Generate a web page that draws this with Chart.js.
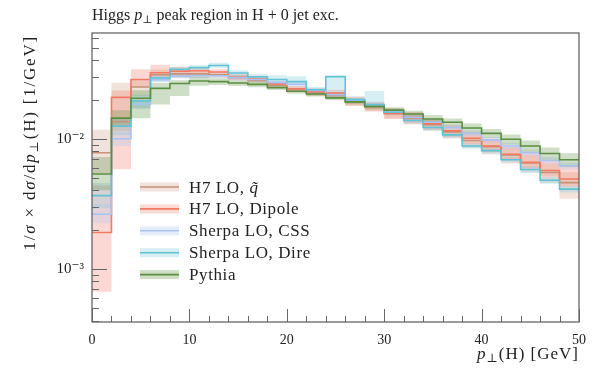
<!DOCTYPE html>
<html>
<head>
<meta charset="utf-8">
<script src="https://cdn.jsdelivr.net/npm/chart.js@4.4.0/dist/chart.umd.min.js"></script>
<style>
    html, body { margin: 0; padding: 0; background: #fff; }
</style>
</head>
<body>
<canvas id="ptChart" width="602" height="374"></canvas>
<script>
// Higgs pT, 2 GeV bins; last edge closes the histogram
const binEdges = [0, 2, 4, 6, 8, 10, 12, 14, 16, 18, 20, 22, 24, 26, 28, 30, 32, 34, 36, 38, 40, 42, 44, 46, 48, 50];

// H7 LO, q~
const h7qVals = [0.0078, 0.0135, 0.0250, 0.0310, 0.0315, 0.0315, 0.0310, 0.0295, 0.0280, 0.0258, 0.0240, 0.0225, 0.0215, 0.0192, 0.0175, 0.0158, 0.0143, 0.0128, 0.0113, 0.0097, 0.0087, 0.0075, 0.0065, 0.0055, 0.0046];
const h7qUp   = [0.50, 1.00, 0.15, 0.10, 0.07, 0.06, 0.05, 0.05, 0.05, 0.05, 0.05, 0.06, 0.06, 0.07, 0.08, 0.09, 0.10, 0.10, 0.11, 0.12, 0.13, 0.14, 0.15, 0.17, 0.20];
const h7qDn   = [0.30, 0.15, 0.15, 0.10, 0.07, 0.06, 0.05, 0.05, 0.05, 0.05, 0.05, 0.06, 0.06, 0.07, 0.08, 0.09, 0.10, 0.10, 0.11, 0.12, 0.13, 0.14, 0.15, 0.17, 0.25];

// H7 LO, Dipole
const h7dVals = [0.0019, 0.0208, 0.0285, 0.0322, 0.0330, 0.0333, 0.0326, 0.0298, 0.0288, 0.0264, 0.0242, 0.0230, 0.0225, 0.0196, 0.0178, 0.0156, 0.0146, 0.0130, 0.0115, 0.0101, 0.0088, 0.0076, 0.0066, 0.0057, 0.0049];
const h7dUp   = [1.30, 0.13, 0.20, 0.15, 0.08, 0.06, 0.05, 0.05, 0.05, 0.05, 0.05, 0.06, 0.06, 0.08, 0.08, 0.09, 0.10, 0.10, 0.10, 0.12, 0.14, 0.15, 0.18, 0.20, 0.25];
const h7dDn   = [0.65, 0.72, 0.12, 0.08, 0.08, 0.06, 0.05, 0.05, 0.05, 0.05, 0.05, 0.06, 0.06, 0.08, 0.08, 0.09, 0.10, 0.10, 0.10, 0.10, 0.10, 0.10, 0.10, 0.10, 0.12];

// Sherpa LO, CSS
const cssVals = [0.00263, 0.0100, 0.0185, 0.0285, 0.0303, 0.0305, 0.0305, 0.0295, 0.0285, 0.0270, 0.0262, 0.0235, 0.0218, 0.0198, 0.0183, 0.0162, 0.0146, 0.0134, 0.0122, 0.0110, 0.0098, 0.0088, 0.0078, 0.0068, 0.0062];
const cssUp   = [0.20, 0.12, 0.08, 0.05, 0.04, 0.04, 0.04, 0.04, 0.04, 0.04, 0.04, 0.04, 0.04, 0.04, 0.04, 0.04, 0.05, 0.05, 0.05, 0.05, 0.05, 0.06, 0.06, 0.06, 0.06];
const cssDn   = [0.15, 0.12, 0.08, 0.05, 0.04, 0.04, 0.04, 0.04, 0.04, 0.04, 0.04, 0.04, 0.04, 0.04, 0.04, 0.04, 0.05, 0.05, 0.05, 0.05, 0.05, 0.06, 0.06, 0.06, 0.06];

// Sherpa LO, Dire
const direVals = [0.00365, 0.0125, 0.0195, 0.0293, 0.0342, 0.0352, 0.0366, 0.0320, 0.0300, 0.0285, 0.0275, 0.0238, 0.0300, 0.0200, 0.0182, 0.0160, 0.0138, 0.0122, 0.0107, 0.0088, 0.0081, 0.0069, 0.0058, 0.0048, 0.0041];
const direUp   = [0.25, 0.15, 0.12, 0.06, 0.05, 0.05, 0.05, 0.05, 0.05, 0.08, 0.10, 0.05, 0.03, 0.05, 0.28, 0.05, 0.05, 0.05, 0.05, 0.05, 0.05, 0.05, 0.06, 0.06, 0.06];
const direDn   = [0.20, 0.15, 0.12, 0.06, 0.05, 0.05, 0.05, 0.05, 0.05, 0.04, 0.04, 0.05, 0.28, 0.05, 0.03, 0.05, 0.05, 0.05, 0.05, 0.05, 0.05, 0.05, 0.06, 0.06, 0.06];

// Pythia
const pyVals = [0.00535, 0.0144, 0.0205, 0.0244, 0.0266, 0.0278, 0.0275, 0.0268, 0.0262, 0.0247, 0.0232, 0.0221, 0.0206, 0.0192, 0.0177, 0.0166, 0.0155, 0.0142, 0.0134, 0.0121, 0.0110, 0.0099, 0.0088, 0.0077, 0.0069];
const pyUp   = [0.35, 0.15, 0.15, 0.10, 0.06, 0.08, 0.06, 0.05, 0.05, 0.04, 0.04, 0.04, 0.04, 0.04, 0.05, 0.05, 0.06, 0.07, 0.07, 0.08, 0.08, 0.09, 0.10, 0.11, 0.12];
const pyDn   = [0.25, 0.12, 0.30, 0.25, 0.20, 0.08, 0.06, 0.05, 0.05, 0.04, 0.04, 0.04, 0.04, 0.04, 0.05, 0.05, 0.06, 0.07, 0.07, 0.08, 0.08, 0.09, 0.10, 0.11, 0.12];

// axis ticks
const xTickStep = 2;
const yTickValues = [4e-4, 5e-4, 6e-4, 7e-4, 8e-4, 9e-4, 1e-3, 2e-3, 3e-3, 4e-3, 5e-3, 6e-3, 7e-3, 8e-3, 9e-3, 1e-2, 2e-2, 3e-2, 4e-2, 5e-2, 6e-2];
const yTickLabels = { '0.001': '10⁻³', '0.01': '10⁻²' };

const FONT = "'Liberation Serif', 'DejaVu Serif', serif";

const series = [
    { label: 'H7 LO, ', italic: 'q̃', vals: h7qVals, up: h7qUp, dn: h7qDn, line: '#c4937a', band: 'rgba(205,150,125,0.28)' },
    { label: 'H7 LO, Dipole', vals: h7dVals, up: h7dUp, dn: h7dDn, line: '#f07a62', band: 'rgba(242,125,110,0.30)' },
    { label: 'Sherpa LO, CSS', vals: cssVals, up: cssUp, dn: cssDn, line: '#a9c2f0', band: 'rgba(170,195,240,0.30)' },
    { label: 'Sherpa LO, Dire', vals: direVals, up: direUp, dn: direDn, line: '#62c1d3', band: 'rgba(110,195,215,0.28)' },
    { label: 'Pythia', vals: pyVals, up: pyUp, dn: pyDn, line: '#5b8e42', band: 'rgba(95,145,70,0.30)' }
];

// step points: bin i value sits on its lower edge, last value repeated at the closing edge
function stepPoints(vals) {
    return binEdges.map((x, i) => ({ x: x, y: vals[Math.min(i, vals.length - 1)] }));
}

const datasets = [];
series.forEach((s, k) => {
    const hi = s.vals.map((v, i) => v * (1 + s.up[i]));
    const lo = s.vals.map((v, i) => v * (1 - s.dn[i]));
    // chart.js 'before' holds the previous value up to the next point
    const common = { stepped: 'before', pointRadius: 0, pointHoverRadius: 0 };
    datasets.push(Object.assign({ data: stepPoints(hi), borderWidth: 0, borderColor: 'transparent', fill: false, order: 20 - k }, common));
    datasets.push(Object.assign({ data: stepPoints(lo), borderWidth: 0, borderColor: 'transparent', backgroundColor: s.band, fill: '-1', order: 20 - k }, common));
    datasets.push(Object.assign({ data: stepPoints(s.vals), borderWidth: 1.6, borderColor: s.line, fill: false, order: 10 - k }, common));
});

// draw several font runs on one baseline
function runsWidth(ctx, runs) {
    return runs.reduce((w, r) => { ctx.font = r.font; return w + ctx.measureText(r.t).width; }, 0);
}
function drawRuns(ctx, x, y, runs) {
    runs.forEach(r => {
        ctx.font = r.font;
        ctx.fillText(r.t, x, y + (r.dy || 0));
        x += ctx.measureText(r.t).width;
    });
}

const decorations = {
    id: 'decorations',
    afterDatasetsDraw(chart) {
        const { ctx, chartArea: a, scales: { x, y } } = chart;
        ctx.save();
        // inward ticks
        ctx.strokeStyle = '#666';
        ctx.lineWidth = 1;
        ctx.beginPath();
        x.ticks.forEach(t => {
            const px = Math.round(x.getPixelForValue(t.value)) + 0.5;
            const len = t.value % 10 === 0 ? 13 : 6;
            ctx.moveTo(px, a.bottom);
            ctx.lineTo(px, a.bottom - len);
        });
        y.ticks.forEach(t => {
            const py = Math.round(y.getPixelForValue(t.value)) + 0.5;
            const len = yTickLabels[String(t.value)] ? 15 : 7;
            ctx.moveTo(a.left, py);
            ctx.lineTo(a.left + len, py);
        });
        ctx.stroke();
        ctx.lineWidth = 1.3;
        ctx.strokeRect(a.left, a.top, a.right - a.left, a.bottom - a.top);

        // legend inside the plot
        ctx.textBaseline = 'alphabetic';
        ctx.letterSpacing = '0.6px';
        series.forEach((s, k) => {
            const cy = 187 + k * 21.9;
            ctx.fillStyle = s.band;
            ctx.fillRect(140, cy - 4.5, 39, 9);
            ctx.strokeStyle = s.line;
            ctx.lineWidth = 1.6;
            ctx.beginPath();
            ctx.moveTo(140, cy);
            ctx.lineTo(179, cy);
            ctx.stroke();
            ctx.fillStyle = '#222';
            const runs = [{ t: s.label, font: '17px ' + FONT }];
            if (s.italic) runs.push({ t: s.italic, font: 'italic 17px ' + FONT });
            drawRuns(ctx, 189, cy + 5.5, runs);
        });
        ctx.restore();
    },
    afterDraw(chart) {
        const { ctx, chartArea: a } = chart;
        ctx.save();
        ctx.fillStyle = '#222';
        ctx.textBaseline = 'alphabetic';
        // title
        drawRuns(ctx, a.left, 20, [
            { t: 'Higgs ', font: '16px ' + FONT },
            { t: 'p', font: 'italic 16px ' + FONT },
            { t: '⊥', font: '11px ' + FONT, dy: 3 },
            { t: ' peak region in H + 0 jet exc.', font: '16px ' + FONT }
        ]);
        // x axis title, right aligned
        ctx.letterSpacing = '1px';
        const xRuns = [
            { t: 'p', font: 'italic 17px ' + FONT },
            { t: '⊥', font: '12px ' + FONT, dy: 3 },
            { t: '(H) [GeV]', font: '17px ' + FONT }
        ];
        drawRuns(ctx, a.right - runsWidth(ctx, xRuns), 359, xRuns);
        // y axis title, rotated, ending at top of plot
        ctx.letterSpacing = '1.8px';
        const yRuns = [
            { t: '1/', font: '17px ' + FONT },
            { t: 'σ', font: 'italic 17px ' + FONT },
            { t: ' × d', font: '17px ' + FONT },
            { t: 'σ', font: 'italic 17px ' + FONT },
            { t: '/d', font: '17px ' + FONT },
            { t: 'p', font: 'italic 17px ' + FONT },
            { t: '⊥', font: '12px ' + FONT, dy: 3 },
            { t: '(H) [1/GeV]', font: '17px ' + FONT }
        ];
        ctx.translate(35, a.top + 2);
        ctx.rotate(-Math.PI / 2);
        drawRuns(ctx, -runsWidth(ctx, yRuns), 0, yRuns);
        ctx.restore();
    }
};

new Chart(document.getElementById('ptChart'), {
    type: 'line',
    data: { datasets: datasets },
    options: {
        responsive: false,
        animation: false,
        events: [],
        layout: { padding: { top: 33, right: 23, left: 0, bottom: 0 } },
        plugins: {
            legend: { display: false },
            tooltip: { enabled: false },
            filler: { propagate: false }
        },
        scales: {
            x: {
                type: 'linear',
                min: 0,
                max: 50,
                grid: { display: false, drawTicks: false },
                border: { display: false },
                ticks: {
                    stepSize: xTickStep,
                    autoSkip: false,
                    maxRotation: 0,
                    padding: 10,
                    color: '#222',
                    font: { family: FONT, size: 14 },
                    callback: v => (v % 10 === 0 ? String(v) : '')
                },
                afterFit: scale => { scale.height = 52; }
            },
            y: {
                type: 'logarithmic',
                min: 3.9e-4,
                max: 0.065,
                grid: { display: false, drawTicks: false },
                border: { display: false },
                afterBuildTicks: scale => {
                    scale.ticks = yTickValues.map(v => ({ value: v }));
                },
                ticks: {
                    autoSkip: false,
                    padding: 8,
                    color: '#222',
                    font: { family: FONT, size: 15 },
                    callback: v => yTickLabels[String(v)] || ''
                },
                afterFit: scale => { scale.width = 92; }
            }
        }
    },
    plugins: [decorations]
});
</script>
</body>
</html>
